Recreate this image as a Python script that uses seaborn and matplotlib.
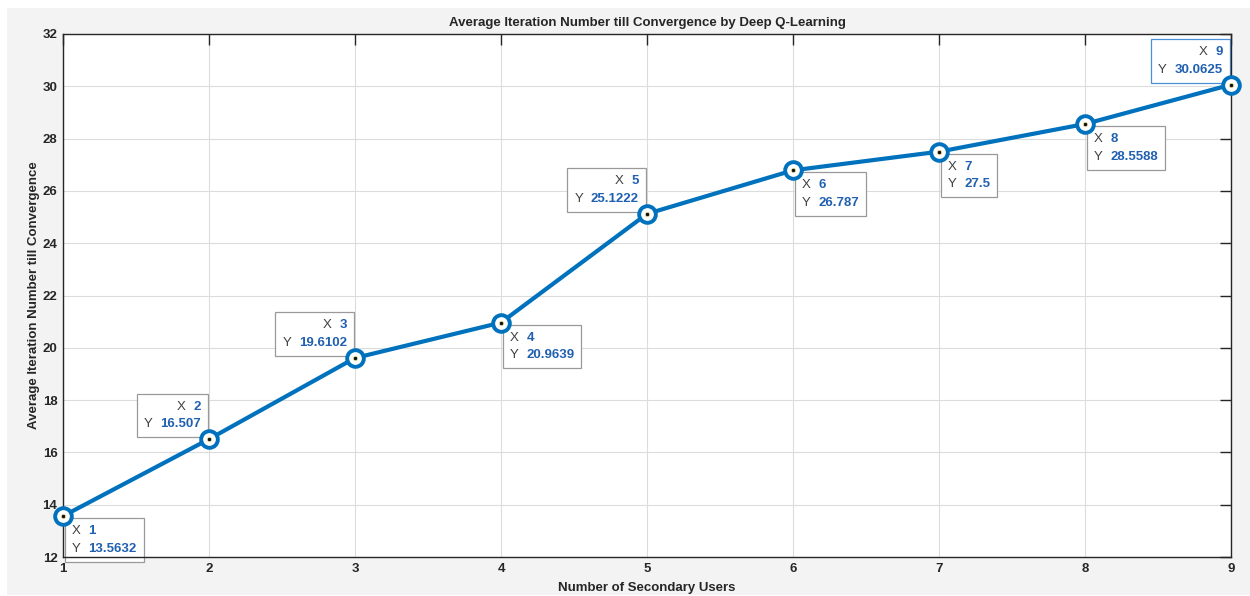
import matplotlib
matplotlib.use("Agg")
import matplotlib.pyplot as plt
import seaborn as sns
import pandas as pd
from matplotlib.patches import Rectangle
from matplotlib.offsetbox import TextArea, HPacker, VPacker, AnnotationBbox

users = [1, 2, 3, 4, 5, 6, 7, 8, 9]
iterations = [13.5632, 16.507, 19.6102, 20.9639, 25.1222, 26.787, 27.5, 28.5588, 30.0625]
tip_labels = ["13.5632", "16.507", "19.6102", "20.9639", "25.1222", "26.787", "27.5", "28.5588", "30.0625"]
tip_side = ["br", "tl", "tl", "br", "tl", "br", "br", "br", "tl"]
y_ticks = [12, 14, 16, 18, 20, 22, 24, 26, 28, 30, 32]

df = pd.DataFrame({"users": users, "iters": iterations})

sns.set_style("white")
plt.rcParams["font.family"] = ["Liberation Sans", "DejaVu Sans"]

fig = plt.figure(figsize=(12.5, 5.96), dpi=100)
fig.patch.set_facecolor("white")
fig.add_artist(Rectangle((7/1250, 1 - 595/596), 1 - 7/1250, (595 - 8)/596,
                         transform=fig.transFigure, facecolor="#f3f3f3", edgecolor="none", zorder=-10))
ax = fig.add_axes([63/1250, 1 - 557/596, (1231 - 63)/1250, (557 - 34)/596])
ax.set_facecolor("white")

blue = "#0072BD"
sns.lineplot(data=df, x="users", y="iters", ax=ax, color=blue, lw=3, zorder=3,
             marker="o", markersize=12, markerfacecolor="white", markeredgecolor=blue,
             markeredgewidth=2.8, clip_on=False)
ax.scatter(users, iterations, s=10, color="#111111", zorder=5, clip_on=False,
           edgecolor="#e8e0a0", linewidth=0.6)

ax.set_xlim(1, 9)
ax.set_ylim(12, 32)
ax.set_xticks(users)
ax.set_yticks(y_ticks)
ax.grid(True, color="#dcdcdc", lw=0.8)
ax.set_axisbelow(True)
for s in ax.spines.values():
    s.set_color("#262626")
    s.set_linewidth(1.0)
ax.tick_params(direction="in", length=8, width=1, color="#262626",
               top=True, right=True, labelsize=9.5, labelcolor="#262626", pad=4)
for lab in ax.get_xticklabels() + ax.get_yticklabels():
    lab.set_fontweight("bold")

ax.set_title("Average Iteration Number till Convergence by Deep Q-Learning",
             fontsize=9.5, fontweight="bold", color="#262626", pad=5.5)
ax.set_xlabel("Number of Secondary Users", fontsize=9.5, fontweight="bold", color="#262626", labelpad=5)
ax.set_ylabel("Average Iteration Number till Convergence", fontsize=9.5, fontweight="bold",
              color="#262626", labelpad=2)

tipfs = 9.5
for x, y, lbl, side in zip(users, iterations, tip_labels, tip_side):
    r1 = HPacker(children=[TextArea("X", textprops=dict(color="#404040", fontsize=tipfs)),
                           TextArea(str(x), textprops=dict(color="#2060b0", fontsize=tipfs, fontweight="bold"))],
                 sep=5.5, pad=0, align="baseline")
    r2 = HPacker(children=[TextArea("Y", textprops=dict(color="#404040", fontsize=tipfs)),
                           TextArea(lbl, textprops=dict(color="#2060b0", fontsize=tipfs, fontweight="bold"))],
                 sep=5.5, pad=0, align="baseline")
    align = "left" if side == "br" else "right"
    box = VPacker(children=[r1, r2], sep=4, pad=5, align=align)
    if side == "br":
        off = (1.5, -1.5)
        ba = (0, 1)
    else:
        off = (-1.0, 1.5)
        ba = (1, 0)
    edge = "#4a90d9" if x == 9 else "#999999"
    ab = AnnotationBbox(box, (x, y), xybox=off, xycoords="data", boxcoords="offset points",
                        box_alignment=ba, frameon=True, pad=0, annotation_clip=False,
                        bboxprops=dict(facecolor="white", edgecolor=edge, lw=0.9, boxstyle="square,pad=0"),
                        zorder=2)
    ax.add_artist(ab)

fig.savefig("out.png", dpi=100)
